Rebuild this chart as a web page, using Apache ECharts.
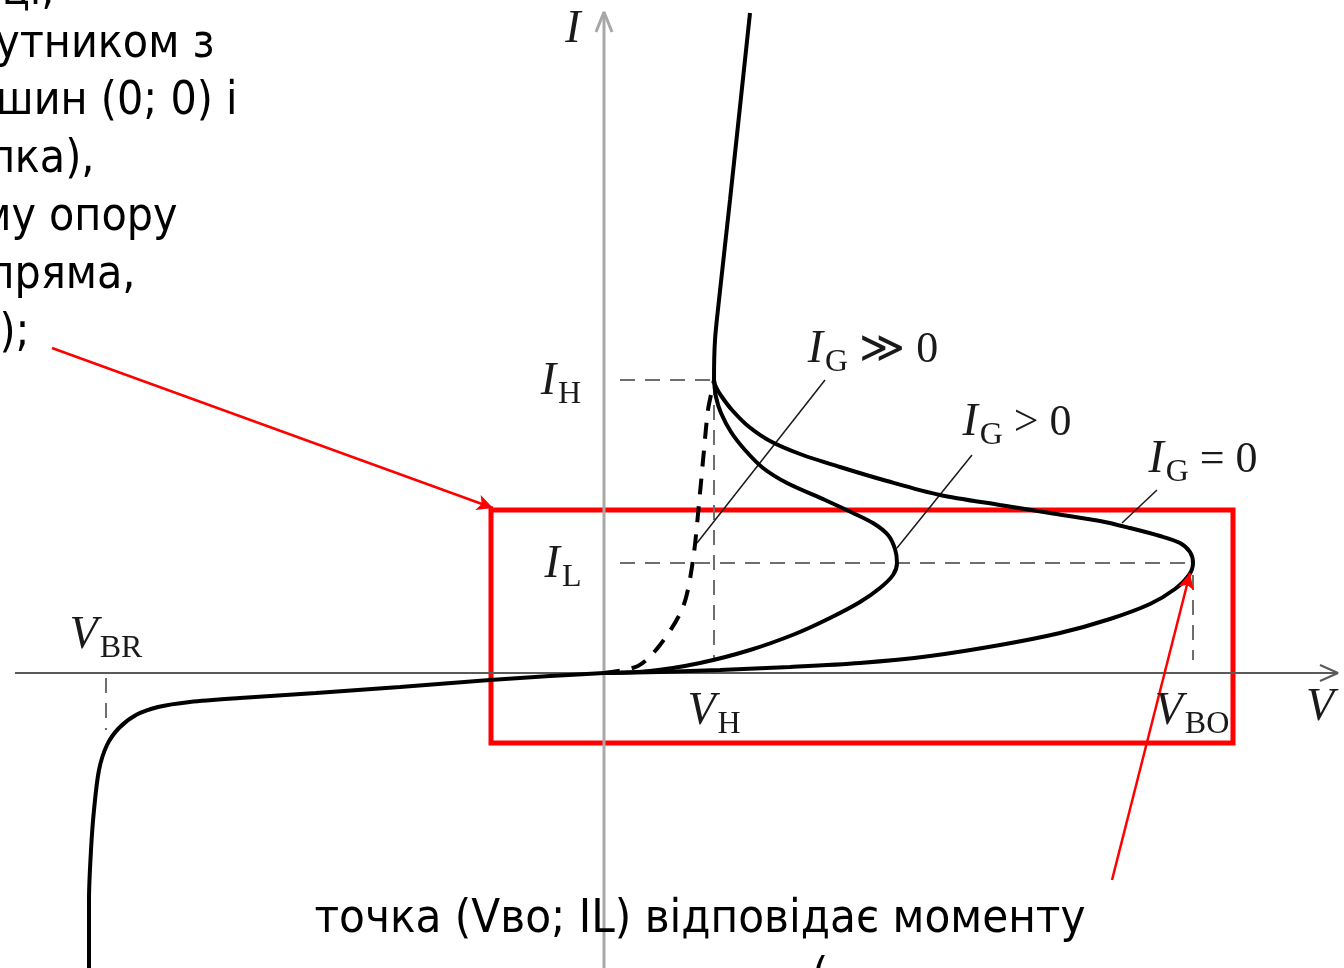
<!DOCTYPE html>
<html>
<head>
<meta charset="utf-8">
<script src="https://cdn.jsdelivr.net/npm/echarts@6/dist/echarts.min.js"></script>
<style>
  html, body { margin: 0; padding: 0; background: #ffffff; }
  #chart { width: 1344px; height: 968px; }
</style>
</head>
<body>
<div id="chart"></div>
<script>
// Thyristor I–V characteristic (V horizontal, I vertical, arbitrary units)

// Reverse branch: breakdown near V_BR up to the origin
const reverseBranch = [
  [-5.15, -2.95], [-5.15, -2.27], [-5.13, -1.77], [-5.10, -1.37], [-5.05, -0.97],
  [-4.97, -0.72], [-4.85, -0.55], [-4.68, -0.42], [-4.46, -0.34], [-4.14, -0.29],
  [-3.64, -0.25], [-2.88, -0.20], [-2.04, -0.14], [-1.14, -0.07], [-0.54, -0.03], [0, 0]
];

// I_G = 0: forward blocking up to V_BO, negative-resistance back to I_H, then on-state
const gateZero = [
  [0, 0], [0.56, 0.01], [1.16, 0.03], [1.86, 0.06], [2.56, 0.10], [3.26, 0.17],
  [3.96, 0.28], [4.56, 0.40], [5.06, 0.54], [5.46, 0.69], [5.71, 0.84], [5.85, 0.98],
  [5.89, 1.10],
  [5.86, 1.21], [5.76, 1.30], [5.56, 1.37], [5.26, 1.45], [4.96, 1.52], [4.46, 1.60],
  [3.96, 1.68], [3.36, 1.78], [2.83, 1.92], [2.36, 2.06], [1.96, 2.19], [1.66, 2.32],
  [1.44, 2.47], [1.28, 2.63], [1.18, 2.76], [1.12, 2.86], [1.10, 2.93],
  [1.11, 3.33], [1.15, 3.73], [1.26, 4.73], [1.46, 6.60]
];

// I_G > 0: earlier turn-over
const gatePositive = [
  [0, 0], [0.46, 0.02], [0.96, 0.10], [1.46, 0.23], [1.91, 0.39], [2.26, 0.55],
  [2.56, 0.71], [2.76, 0.85], [2.89, 0.98], [2.93, 1.10], [2.91, 1.24], [2.84, 1.38],
  [2.69, 1.50], [2.49, 1.60], [2.21, 1.73], [1.83, 1.90], [1.59, 2.05], [1.41, 2.23],
  [1.27, 2.41], [1.17, 2.60], [1.12, 2.76], [1.10, 2.93]
];

// I_G >> 0: almost diode-like (dashed)
const gateLarge = [
  [0, 0], [0.34, 0.07], [0.56, 0.28], [0.79, 0.66], [0.89, 1.13], [0.96, 1.80],
  [1.00, 2.23], [1.04, 2.63], [1.08, 2.83], [1.10, 2.93]
];

// Characteristic points
const V_H = 1.10, V_BO = 5.89, V_BR = -4.98;
const I_H = 2.93, I_L = 1.10;

// Coordinate axes and their arrow heads
const axisV = [[-5.89, 0], [7.34, 0]];
const axisVHead = [[7.16, 0.08], [7.34, 0], [7.16, -0.08]];
const axisI = [[0, -2.95], [0, 6.61]];
const axisIHead = [[-0.08, 6.41], [0, 6.61], [0.08, 6.41]];

// Dashed guide lines
const guides = [
  [[0.16, I_H], [V_H, I_H]],
  [[V_H, I_H], [V_H, 0.13]],
  [[0.16, I_L], [V_BO, I_L]],
  [[V_BO, 0.98], [V_BO, 0.13]],
  [[V_BR, -0.05], [V_BR, -0.57]]
];

// Leader lines from the gate-current labels to their curves
const leaders = [
  [[2.21, 2.93], [0.93, 1.30]],
  [[3.68, 2.18], [2.93, 1.25]],
  [[5.53, 1.83], [5.18, 1.50]]
];

// Axis and point labels: [V, I, rich text]
const mathLabels = [
  [-0.31, 6.43, '{i|I}'],
  [-0.43, 2.91, '{i|I}{s|H}'],
  [-0.41, 1.08, '{i|I}{s|L}'],
  [-4.98, 0.37, '{i|V}{s|BR}'],
  [1.10, -0.39, '{i|V}{s|H}'],
  [5.88, -0.39, '{i|V}{s|BO}'],
  [7.16, -0.35, '{i|V}'],
  [2.69, 3.23, '{i|I}{s|G}{r| ≫ 0}'],
  [4.13, 2.50, '{i|I}{s|G}{r| > 0}'],
  [5.99, 2.13, '{i|I}{s|G}{r| = 0}']
];

// Slide text (right edge position for the left block)
const sideText = [
  [-5.49, 6.81, 'ці,'],
  [-3.89, 6.28, 'утником з'],
  [-3.66, 5.71, 'шин (0; 0) і'],
  [-5.09, 5.13, 'лка),'],
  [-4.26, 4.55, 'му опору'],
  [-4.68, 3.97, 'пряма,'],
  [-5.74, 3.39, ');']
];
const bottomText = [
  [0.96, -2.47, 'точка (Vво; IL) відповідає моменту'],
  [2.16, -3.05, '(']
];

// Highlight box and pointer arrows
const highlightBox = [[-1.13, 1.63], [6.29, -0.70]];
const pointers = [
  [[-5.52, 3.25], [-1.11, 1.65]],
  [[5.08, -2.07], [5.86, 1.00]]
];

const serif = '"Liberation Serif", "DejaVu Serif", serif';
const slideFont = '"DejaVu Sans Condensed", "DejaVu Sans", sans-serif';
const ink = '#1a1a1a';

function curve(data, opts) {
  return Object.assign({
    type: 'line', data: data, showSymbol: false, symbol: 'none',
    smooth: 0.3, silent: true, animation: false, clip: false,
    lineStyle: { color: '#000', width: 4 }
  }, opts || {});
}

function textLayer(rows, label, z) {
  return {
    type: 'scatter', silent: true, animation: false, clip: false, z: z,
    symbolSize: 1, itemStyle: { color: 'rgba(0,0,0,0)', opacity: 1 },
    data: rows.map(d => ({ value: [d[0], d[1]], text: d[2] })),
    label: Object.assign({
      show: true, formatter: p => p.data.text, textBorderWidth: 0, opacity: 1
    }, label)
  };
}

const series = [];

// axes
series.push(curve(axisV, { smooth: false, lineStyle: { color: '#5a5a5a', width: 2 }, z: 1 }));
series.push(curve(axisVHead, { smooth: false, lineStyle: { color: '#5a5a5a', width: 2 }, z: 1 }));
series.push(curve(axisI, { smooth: false, lineStyle: { color: '#a8a8a8', width: 3 }, z: 1 }));
series.push(curve(axisIHead, { smooth: false, lineStyle: { color: '#a8a8a8', width: 3 }, z: 1 }));

// guides
guides.forEach(g => series.push(curve(g, {
  smooth: false, z: 2,
  lineStyle: { color: '#6e6e6e', width: 2, type: [15, 10] }
})));

// leaders
leaders.forEach(g => series.push(curve(g, {
  smooth: false, z: 2, lineStyle: { color: ink, width: 1.5 }
})));

// characteristics
series.push(curve(reverseBranch, { z: 3 }));
series.push(curve(gateZero, { z: 3 }));
series.push(curve(gatePositive, { z: 3 }));
series.push(curve(gateLarge, { z: 3, lineStyle: { color: '#000', width: 4, type: [16, 12] } }));

// math labels
series.push(textLayer(mathLabels, {
  position: 'inside',
  rich: {
    i: { fontFamily: serif, fontStyle: 'italic', fontSize: 46, lineHeight: 46, color: ink },
    s: { fontFamily: serif, fontSize: 32, lineHeight: 32, padding: [26, 0, 0, 2], color: ink },
    r: { fontFamily: serif, fontSize: 44, lineHeight: 46, color: ink }
  }
}, 5));

// slide text, left block
series.push(textLayer(sideText, {
  position: 'left', distance: 0,
  fontFamily: slideFont, fontSize: 46, color: '#000'
}, 6));

// slide text, bottom
series.push(textLayer(bottomText, {
  position: 'inside',
  fontFamily: slideFont, fontSize: 47, color: '#000'
}, 6));

// highlight box and arrows
series.push({
  type: 'line', data: [], silent: true, animation: false, z: 7,
  markArea: {
    silent: true,
    itemStyle: { color: 'rgba(0,0,0,0)', borderColor: '#ff0000', borderWidth: 5 },
    label: { show: false },
    data: [[{ coord: highlightBox[0] }, { coord: highlightBox[1] }]]
  },
  markLine: {
    silent: true, animation: false,
    symbol: ['none', 'arrow'], symbolSize: [12, 16],
    lineStyle: { color: '#ff0000', width: 2.5, type: 'solid' },
    label: { show: false },
    data: pointers.map(p => [{ coord: p[0] }, { coord: p[1] }])
  }
});

const chart = echarts.init(document.getElementById('chart'), null, { renderer: 'canvas' });
chart.setOption({
  animation: false,
  backgroundColor: '#ffffff',
  grid: { left: 0, right: 0, top: 0, bottom: 0 },
  xAxis: { type: 'value', min: -6.04, max: 7.40, show: false },
  yAxis: { type: 'value', min: -2.95, max: 6.73, show: false },
  series: series
});
</script>
</body>
</html>
